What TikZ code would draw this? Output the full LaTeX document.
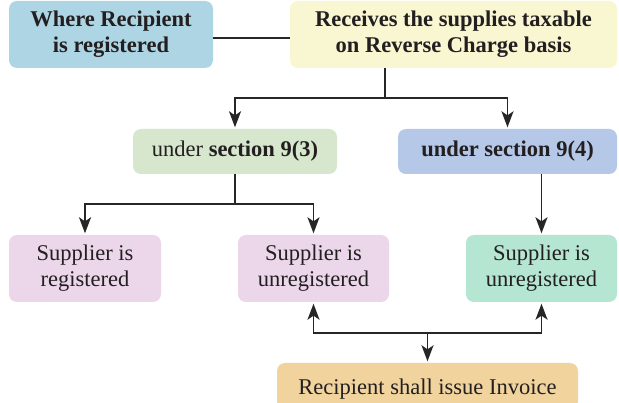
\documentclass[tikz,border=0pt]{standalone}
\usepackage{fontspec}
\setmainfont{Liberation Serif}
\usetikzlibrary{arrows.meta}
\definecolor{fillA}{HTML}{ADD5E4}
\definecolor{fillB}{HTML}{F9F7D1}
\definecolor{fillC}{HTML}{D6E7CE}
\definecolor{fillD}{HTML}{B5C8E8}
\definecolor{fillE}{HTML}{EBD6EA}
\definecolor{fillG}{HTML}{B5E6D1}
\definecolor{fillH}{HTML}{F1D39D}
\definecolor{lineC}{HTML}{262626}
\definecolor{textC}{HTML}{231F20}
\begin{document}
\begin{tikzpicture}[x=1pt,y=-1pt,
  box/.style={rounded corners=8pt, align=center, inner sep=0pt,
    text=textC, font=\fontsize{22.5}{26}\selectfont},
  link/.style={draw=lineC, line width=1.6pt},
  arr/.style={link, -{Stealth[length=16pt,width=12pt,inset=4pt]}, shorten >=1.5pt}]
\clip (0,0) rectangle (619,403);
\fill[white] (0,0) rectangle (619,403);
% boxes
\node[box, fill=fillA, minimum width=204pt, minimum height=67pt] (A) at (111,34.5)
  {\textbf{Where Recipient}\\\textbf{is registered}};
\node[box, fill=fillB, minimum width=327pt, minimum height=67pt] (B) at (453.5,34.5)
  {\textbf{Receives the supplies taxable}\\\textbf{on Reverse Charge basis}};
\node[box, fill=fillC, minimum width=204pt, minimum height=45pt] (C) at (235,151.5)
  {under \textbf{section 9(3)}};
\node[box, fill=fillD, minimum width=219pt, minimum height=45pt] (D) at (507.5,151.5)
  {\textbf{under section 9(4)}};
\node[box, fill=fillE, minimum width=152pt, minimum height=67pt] (E) at (85,268.5)
  {Supplier is\\registered};
\node[box, fill=fillE, minimum width=151pt, minimum height=67pt] (F) at (313.5,268.5)
  {Supplier is\\unregistered};
\node[box, fill=fillG, minimum width=151pt, minimum height=67pt] (G) at (541.5,268.5)
  {Supplier is\\unregistered};
\node[box, fill=fillH, minimum width=301pt, minimum height=46pt, text depth=0pt] (H) at (427.5,386)
  {\raisebox{-2pt}{Recipient shall issue Invoice}};
% junction points
\coordinate (j1) at (385,98);
\coordinate (j2) at (235,204);
\coordinate (j3) at (427.5,333);
% connectors
\draw[link] ([yshift=-3.5pt]A.east) -- ([yshift=-3.5pt]B.west);
\draw[link] (B.south -| j1) -- (j1);
\draw[arr] (j1) -| (C.north);
\draw[arr] (j1) -| (D.north);
\draw[link] (C.south) -- (j2);
\draw[arr] (j2) -| (E.north);
\draw[arr] (j2) -| (F.north);
\draw[arr] (G.north |- D.south) -- (G.north);
\draw[arr] (j3) -- (H.north);
\draw[arr] (j3) -| (F.south);
\draw[arr] (j3) -| (G.south);
\end{tikzpicture}
\end{document}
